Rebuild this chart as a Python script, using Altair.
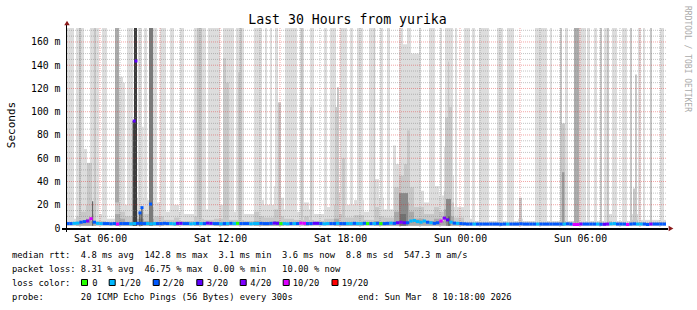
import altair as alt
import pandas as pd

# ---------------------------------------------------------------- data
# time axis: hours since Sat 00:00 ; plot spans Sat 04:18 -> Sun 10:18
T0, T1 = 4.3, 34.3
YMAX = 172          # top of the value axis (ms)
Y0 = 2              # bottom of the smoke (min rtt, ms)

# light smoke reaching above the top of the graph (h0, h1)
light_full = [(4.30, 4.70), (4.80, 4.95), (5.05, 5.20), (5.50, 5.95), (6.10, 6.35),
              (7.35, 7.65), (7.90, 8.10), (8.20, 8.35), (8.65, 8.85), (9.00, 9.30),
              (9.50, 9.70), (10.00, 10.20), (10.70, 11.30), (11.40, 12.00), (12.15, 12.70),
              (12.80, 13.20), (13.70, 14.10), (14.25, 14.35), (14.50, 14.60), (14.75, 14.90),
              (15.25, 15.85), (16.00, 16.20), (16.50, 16.70), (17.20, 17.35), (17.50, 17.80),
              (18.00, 18.35), (18.50, 18.65), (18.85, 19.15), (19.45, 19.70), (20.00, 20.15),
              (20.35, 20.50), (20.95, 21.15), (21.35, 21.55), (21.95, 22.05), (22.45, 22.75),
              (23.00, 23.10), (23.25, 23.65), (23.75, 23.85), (24.20, 24.50), (24.60, 24.75),
              (24.95, 25.45), (25.85, 26.15), (26.35, 26.70), (27.75, 28.35), (28.50, 28.60),
              (29.25, 29.40), (29.70, 30.30), (30.35, 30.50), (30.70, 30.85), (31.20, 31.45),
              (31.60, 31.85), (32.10, 32.35), (32.90, 33.05), (33.15, 33.25), (34.00, 34.20)]

# light smoke with a visible top (h0, h1, top ms)
light_partial = [(5.15, 5.35, 68), (6.95, 7.15, 130), (7.15, 7.25, 125), (8.10, 8.18, 87),
                 (20.65, 20.80, 71), (21.15, 21.35, 158), (21.55, 21.95, 150)]

# medium smoke reaching the top
medium_full = [(4.95, 5.05), (5.70, 5.80), (10.85, 11.10), (13.00, 13.10), (16.05, 16.15),
               (19.70, 19.76), (29.00, 29.10), (31.00, 31.10), (31.35, 31.45), (32.50, 32.60),
               (33.50, 33.60)]
medium_dark_full = [(6.75, 6.95), (29.70, 29.95)]

# medium smoke with a visible top (h0, h1, top ms)
medium_partial = [(5.35, 5.60, 56), (12.15, 12.30, 146), (12.30, 12.45, 125), (12.90, 13.00, 134),
                  (14.90, 15.05, 108), (16.50, 16.60, 104), (17.75, 17.85, 104), (17.85, 17.95, 121),
                  (18.10, 18.25, 60), (21.35, 21.50, 84), (23.25, 23.40, 95), (23.40, 23.45, 143),
                  (23.45, 23.60, 104), (26.95, 27.10, 26), (29.10, 29.25, 90), (32.65, 32.75, 34),
                  (32.75, 32.85, 132)]

# dark smoke (h0, h1, top ms, grey)
dark_bars = [(5.60, 5.66, 23, "#666666"), (7.63, 7.70, 92, "#444444"), (7.70, 7.85, 172, "#3c3c3c"),
             (7.97, 8.02, 13, "#222222"), (8.07, 8.12, 18, "#222222"), (8.45, 8.65, 172, "#7a7a7a"),
             (20.95, 21.40, 30, "#8a8a8a"), (21.00, 21.30, 12, "#707070"),
             (23.30, 23.55, 25, "#8a8a8a"), (23.40, 23.50, 10, "#6a6a6a"),
             (29.10, 29.22, 48, "#999999")]

# smoke near the bottom (h0, h1, light top, medium top, dark top) in ms
low_blocks = [(4.30, 4.80, 8, 5, 0), (4.80, 5.05, 38, 10, 5), (5.05, 5.30, 30, 14, 6),
              (5.30, 5.55, 45, 20, 8), (5.55, 5.80, 28, 12, 6),
              (5.80, 6.30, 12, 6, 0), (6.30, 6.75, 8, 5, 0), (6.75, 7.00, 30, 22, 12),
              (7.00, 7.25, 26, 14, 8), (7.25, 7.70, 20, 10, 5), (7.70, 8.20, 26, 14, 8),
              (8.20, 8.45, 24, 12, 6), (8.45, 8.70, 28, 18, 8), (8.70, 9.20, 22, 10, 5),
              (9.20, 9.70, 14, 7, 0), (9.70, 9.95, 20, 9, 4), (9.95, 10.20, 14, 6, 0),
              (10.20, 10.70, 12, 6, 0), (10.70, 10.95, 26, 10, 5), (10.95, 11.20, 18, 8, 0),
              (11.20, 11.70, 16, 7, 0), (11.70, 12.20, 20, 8, 4), (12.20, 12.45, 22, 10, 5),
              (12.45, 12.70, 15, 7, 0), (12.70, 13.20, 14, 7, 0), (13.20, 13.70, 12, 6, 0),
              (13.70, 13.95, 32, 14, 6), (13.95, 14.20, 24, 10, 5), (14.20, 14.70, 20, 9, 4),
              (14.70, 14.95, 36, 16, 6), (14.95, 15.20, 26, 10, 5), (15.20, 15.70, 16, 8, 0),
              (15.70, 16.20, 14, 7, 0), (16.20, 16.45, 22, 10, 4), (16.45, 16.70, 16, 7, 0),
              (16.70, 17.20, 12, 6, 0), (17.20, 17.70, 18, 8, 0), (17.70, 17.95, 40, 20, 8),
              (17.95, 18.20, 30, 12, 5), (18.20, 18.70, 20, 9, 4), (18.70, 19.20, 24, 11, 5),
              (19.20, 19.70, 14, 7, 0), (19.70, 19.95, 42, 18, 6), (19.95, 20.20, 26, 10, 5),
              (20.20, 20.70, 16, 9, 4), (20.70, 20.95, 55, 35, 14), (20.95, 21.20, 70, 45, 20),
              (21.20, 21.45, 90, 55, 22), (21.45, 21.70, 60, 35, 14), (21.70, 22.20, 32, 18, 8),
              (22.20, 22.70, 22, 12, 6), (22.70, 22.95, 36, 18, 8), (22.95, 23.20, 28, 14, 6),
              (23.20, 23.45, 70, 32, 16), (23.45, 23.70, 45, 22, 10), (23.70, 24.20, 18, 9, 4),
              (24.20, 24.70, 8, 5, 0), (24.70, 26.90, 6, 4.5, 0),
              (26.90, 27.15, 8, 5, 0), (27.15, 29.00, 6, 4.5, 0), (29.00, 29.30, 10, 6, 0),
              (29.30, 31.40, 6, 4.5, 0), (31.40, 31.60, 12, 6, 0), (31.60, 32.50, 6, 4.5, 0),
              (32.50, 32.90, 12, 7, 0), (32.90, 34.30, 7, 5, 0)]

# median rtt (ms), one value per 10 minutes from Sat 04:18
median_ms = [
    3.8, 3.8, 4.0, 4.2, 5.0, 5.5, 6.0, 8.0, 5.0, 4.0, 3.8, 3.8, 3.8, 3.6, 3.8, 3.4, 3.8, 3.8,
    3.8, 3.6, 3.8, 4.0, 4.0, 3.8, 3.8, 3.6, 3.8, 3.8, 3.8, 4.0, 3.8, 3.8, 3.6, 4.0, 4.0, 3.8,
    3.8, 3.6, 3.8, 4.0, 3.8, 3.8, 4.2, 4.0, 3.8, 3.8, 3.6, 3.8, 3.8, 4.0, 3.8, 4.0, 3.8, 3.8,
    3.8, 3.6, 3.8, 3.8, 4.0, 3.8, 3.8, 4.0, 4.2, 4.0, 3.8, 3.8, 3.6, 3.8, 3.8, 3.8, 4.2, 4.0,
    3.8, 3.8, 4.0, 4.0, 3.8, 3.6, 3.8, 3.8, 3.8, 4.0, 3.8, 3.8, 3.8, 3.8, 4.0, 3.8, 3.8, 4.0,
    3.8, 3.8, 3.8, 4.0, 3.8, 3.8, 4.0, 4.2, 4.0, 4.5, 5.0, 4.5, 4.5, 6.0, 6.5, 5.5, 5.0, 6.0,
    5.0, 4.5, 4.0, 4.5, 6.0, 8.5, 7.0, 5.0, 4.2, 4.0, 3.8, 3.6, 3.4, 3.4, 3.4, 3.4, 3.4, 3.4,
    3.4, 3.4, 3.4, 3.4, 3.2, 3.4, 3.4, 3.4, 3.4, 3.4, 3.6, 3.4, 3.4, 3.4, 3.4, 3.4, 3.4, 3.4,
    3.4, 3.4, 3.4, 3.4, 3.4, 3.4, 3.6, 3.4, 3.0, 3.0, 3.4, 3.4, 3.4, 3.4, 3.4, 3.4, 3.2, 3.2,
    3.4, 3.6, 3.8, 3.4, 3.4, 3.4, 3.0, 3.4, 3.6, 3.4, 3.4, 3.4, 3.0, 3.4, 3.4, 3.4, 3.4, 3.4]

# packet-loss class of each median step (0, 1..4 = n/20, A = 10/20, R = 19/20)
loss_codes = ("2211224A2112222A22" "211222111222211332" "211212332212121022"
              "2111222233011212AA" "223321122122112112" "021202212343211111"
              "2122A4312122221222" "222222122222222122" "22222122AA42222123"
              "411222A22112242222")

# isolated median samples (hour, ms, loss class)
spike_dots = [(7.71, 92, "3"), (7.80, 143.6, "3"), (8.00, 13, "2"), (8.10, 17.5, "2"), (8.53, 20.6, "2")]

loss_colors = {"0": "#26ff00", "1": "#00b8ff", "2": "#0059ff", "3": "#5e00ff",
               "4": "#7e00ff", "A": "#dd00ff", "R": "#ff0000"}
legend_keys = ["0", "1", "2", "3", "4", "A", "R"]
legend_labels = ["0", "1/20", "2/20", "3/20", "4/20", "10/20", "19/20"]

x_ticks = [6, 12, 18, 24, 30]
y_ticks = [0, 20, 40, 60, 80, 100, 120, 140, 160]
y_minor = [v for v in range(5, 171, 5) if v % 20]
x_major = list(range(6, 34, 3))
x_minor = [h for h in range(5, 35) if h % 3]

title_text = "Last 30 Hours from yurika"
row1 = "median rtt:  4.8 ms avg  142.8 ms max  3.1 ms min  3.6 ms now  8.8 ms sd  547.3 m am/s"
row2 = "packet loss: 8.31 % avg  46.75 % max  0.00 % min   10.00 % now"
row3 = "loss color:"
row4 = "probe:       20 ICMP Echo Pings (56 Bytes) every 300s"
row4b = "end: Sun Mar  8 10:18:00 2026"

# ---------------------------------------------------------------- styling
LIGHT, MID, MIDFULL, MIDDARK, DARK = "#dddddd", "#c8c8c8", "#c6c6c6", "#ababab", "#aaaaaa"
MONO = "DejaVu Sans Mono"
NBSP = "\u00a0"
W, H = 600, 200

# ---------------------------------------------------------------- frames
rows = []
for h0, h1, l, m, d in low_blocks:
    rows.append((h0, h1, Y0, l, LIGHT))
for h0, h1 in light_full:
    rows.append((h0, h1, Y0, YMAX, LIGHT))
for h0, h1, t in light_partial:
    rows.append((h0, h1, Y0, t, LIGHT))
for h0, h1 in medium_full:
    rows.append((h0, h1, Y0, YMAX, MIDFULL))
for h0, h1 in medium_dark_full:
    rows.append((h0, h1, Y0, YMAX, MIDDARK))
for h0, h1, t in medium_partial:
    rows.append((h0, h1, Y0, t, MID))
for h0, h1, l, m, d in low_blocks:
    rows.append((h0, h1, Y0, m, MID))
for h0, h1, l, m, d in low_blocks:
    if d > 0:
        rows.append((h0, h1, Y0, d, DARK))
for h0, h1, t, c in dark_bars:
    rows.append((h0, h1, Y0, t, c))
smoke = pd.DataFrame(rows, columns=["h0", "h1", "y0", "y1", "c"])
smoke["o"] = range(len(smoke))

med = pd.DataFrame({
    "h0": [T0 + i / 6 for i in range(len(median_ms))],
    "h1": [T0 + (i + 1) / 6 for i in range(len(median_ms))],
    "v": median_ms,
    "c": [loss_colors[k] for k in loss_codes[:len(median_ms)]],
})
dots = pd.DataFrame({"h0": [d[0] for d in spike_dots], "v": [d[1] for d in spike_dots],
                     "c": [loss_colors[d[2]] for d in spike_dots]})

xs = alt.Scale(domain=[T0, T1], nice=False, zero=False)
ys = alt.Scale(domain=[0, YMAX], nice=False, zero=True)

xaxis = alt.Axis(values=x_ticks, title=None, grid=False, domain=False, ticks=False, tickSize=0,
                 labelExpr="(datum.value < 24 ? 'Sat ' : 'Sun ') + (datum.value % 24 < 10 ? '0' : '') + (datum.value % 24) + ':00'",
                 labelFont=MONO, labelFontSize=9.8, labelColor="black", labelPadding=13,
                 labelBaseline="alphabetic", labelFlush=False, labelOverlap=False)
yaxis = alt.Axis(values=y_ticks, title=None, grid=False, domain=False, ticks=False, tickSize=0,
                 labelExpr="datum.value == 0 ? '0" + NBSP + NBSP + "' : datum.value + ' m'",
                 labelFont=MONO, labelFontSize=9.8, labelColor="black", labelPadding=6,
                 labelAlign="right", labelBaseline="middle", labelFlush=False, labelOverlap=False)

smoke_layer = alt.Chart(smoke).mark_rect().encode(
    x=alt.X("h0:Q", scale=xs, axis=xaxis), x2="h1:Q",
    y=alt.Y("y0:Q", scale=ys, axis=yaxis), y2="y1:Q",
    color=alt.Color("c:N", scale=None), order="o:Q")

def hgrid(vals, color, op):
    return alt.Chart(pd.DataFrame({"v": vals})).mark_rule(
        color=color, strokeWidth=1, strokeDash=[1, 1], opacity=op).encode(
        y=alt.Y("v:Q", scale=ys, axis=yaxis))

def vgrid(vals, color, op):
    return alt.Chart(pd.DataFrame({"h0": vals})).mark_rule(
        color=color, strokeWidth=1, strokeDash=[1, 1], opacity=op).encode(
        x=alt.X("h0:Q", scale=xs, axis=xaxis))

grid_layers = [hgrid(y_minor, "#7a7a7a", 0.45), vgrid(x_minor, "#7a7a7a", 0.45),
               hgrid(y_ticks[1:], "#e02020", 0.4), vgrid(x_major, "#e02020", 0.4)]

median_layer = alt.Chart(med).mark_rule(strokeWidth=3, strokeCap="butt").encode(
    x=alt.X("h0:Q", scale=xs, axis=xaxis), x2="h1:Q",
    y=alt.Y("v:Q", scale=ys, axis=yaxis),
    color=alt.Color("c:N", scale=None))

dot_layer = alt.Chart(dots).mark_square(size=9, opacity=1).encode(
    x=alt.X("h0:Q", scale=xs, axis=xaxis), y=alt.Y("v:Q", scale=ys, axis=yaxis),
    color=alt.Color("c:N", scale=None))

one = pd.DataFrame({"a": [0]})
xaxis_line = alt.Chart(one).mark_rule(color="black", strokeWidth=2).encode(
    x=alt.value(-4), x2=alt.value(602), y=alt.value(201))
yaxis_line = alt.Chart(one).mark_rule(color="black", strokeWidth=1).encode(
    x=alt.value(0.5), y=alt.value(-4), y2=alt.value(204))
arrow_up = alt.Chart(one).mark_point(shape="triangle-up", filled=True, size=30, color="#8b1a1a", opacity=1).encode(
    x=alt.value(1), y=alt.value(-5))
arrow_right = alt.Chart(one).mark_point(shape="triangle-right", filled=True, size=30, color="#8b1a1a", opacity=1).encode(
    x=alt.value(605), y=alt.value(200.5))


def label(s, x, y, size=8.8, align="left", baseline="alphabetic", angle=0, color="black"):
    return alt.Chart(pd.DataFrame({"t": [s.replace(" ", NBSP)]})).mark_text(
        font=MONO, fontSize=size, align=align, baseline=baseline, angle=angle, color=color).encode(
        x=alt.value(x), y=alt.value(y), text="t:N")

texts = [
    label(title_text, 281.5, -4, size=13.2, align="center"),
    label("Seconds", -54, 97, size=11, align="center", baseline="middle", angle=270),
    label("RRDTOOL / TOBI OETIKER", 621, 31, size=8.0, align="center", baseline="middle",
          angle=90, color="#aaaaaa"),
    label(row1, -54, 230), label(row2, -54, 243.5), label(row3, -54, 257.5),
    label(row4, -54, 271.5), label(row4b, 292, 271.5),
]

sw_x = [18.5, 46.2, 90.2, 133.8, 177.2, 220.2, 269.0]
lab_x = [26.2, 53.5, 96.8, 140.8, 184.2, 226.8, 275.8]
swatch = pd.DataFrame({"px": sw_x, "c": [loss_colors[k] for k in legend_keys]})
swatch_layer = alt.Chart(swatch).mark_square(size=36, stroke="black", strokeWidth=1, opacity=1).encode(
    x=alt.X("px:Q", scale=None), y=alt.value(254.5),
    fill=alt.Color("c:N", scale=None))
swatch_text = alt.Chart(pd.DataFrame({"px": lab_x, "t": legend_labels})).mark_text(
    font=MONO, fontSize=8.8, align="left", baseline="alphabetic", color="black").encode(
    x=alt.X("px:Q", scale=None), y=alt.value(257.5), text="t:N")

chart = alt.layer(
    smoke_layer, *grid_layers, median_layer, dot_layer,
    xaxis_line, yaxis_line, arrow_up, arrow_right, swatch_layer, swatch_text, *texts
).properties(
    width=W, height=H, background="white",
    autosize=alt.AutoSizeParams(type="none"),
    padding={"left": 66, "top": 28, "right": 31, "bottom": 82},
).configure_view(stroke=None)

chart.save("out.html", embed_options={"renderer": "svg", "actions": False})
